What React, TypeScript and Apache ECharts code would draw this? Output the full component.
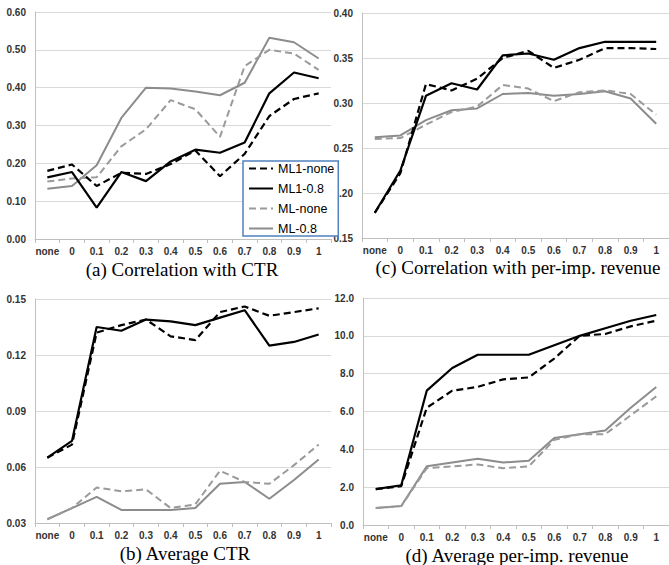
import React, { useEffect, useRef } from "react";
import * as echarts from "echarts";

const categories = ["none", "0", "0.1", "0.2", "0.3", "0.4", "0.5", "0.6", "0.7", "0.8", "0.9", "1"];
const seriesNames = ["ML1-none", "ML1-0.8", "ML-none", "ML-0.8"];

// (a) Correlation with CTR
const aML1none = [0.18, 0.197, 0.14, 0.175, 0.172, 0.198, 0.234, 0.166, 0.225, 0.325, 0.37, 0.385];
const aML1_08 = [0.163, 0.177, 0.083, 0.177, 0.153, 0.205, 0.236, 0.228, 0.255, 0.385, 0.44, 0.425];
const aMLnone = [0.152, 0.16, 0.163, 0.245, 0.29, 0.367, 0.343, 0.27, 0.457, 0.5, 0.49, 0.447];
const aML_08 = [0.133, 0.14, 0.195, 0.32, 0.4, 0.398, 0.39, 0.38, 0.413, 0.532, 0.52, 0.477];

// (b) Average CTR
const bML1none = [0.065, 0.072, 0.132, 0.136, 0.139, 0.13, 0.128, 0.143, 0.146, 0.141, 0.143, 0.145];
const bML1_08 = [0.065, 0.074, 0.135, 0.133, 0.139, 0.138, 0.136, 0.14, 0.144, 0.125, 0.127, 0.131];
const bMLnone = [0.032, 0.038, 0.049, 0.047, 0.048, 0.038, 0.04, 0.058, 0.052, 0.051, 0.061, 0.072];
const bML_08 = [0.032, 0.038, 0.044, 0.037, 0.037, 0.037, 0.038, 0.051, 0.052, 0.043, 0.053, 0.064];

// (c) Correlation with per-imp. revenue
const cML1none = [0.178, 0.222, 0.321, 0.314, 0.327, 0.35, 0.358, 0.339, 0.348, 0.361, 0.361, 0.36];
const cML1_08 = [0.178, 0.225, 0.308, 0.322, 0.315, 0.353, 0.355, 0.348, 0.361, 0.368, 0.368, 0.368];
const cMLnone = [0.26, 0.261, 0.276, 0.29, 0.296, 0.32, 0.316, 0.302, 0.312, 0.314, 0.31, 0.287];
const cML_08 = [0.262, 0.264, 0.281, 0.292, 0.294, 0.31, 0.311, 0.308, 0.31, 0.313, 0.305, 0.277];

// (d) Average per-imp. revenue
const dML1none = [1.9, 2.05, 6.2, 7.1, 7.3, 7.7, 7.8, 8.8, 10.0, 10.1, 10.5, 10.8];
const dML1_08 = [1.9, 2.1, 7.1, 8.3, 9.0, 9.0, 9.0, 9.5, 10.0, 10.4, 10.8, 11.1];
const dMLnone = [0.9, 1.0, 3.0, 3.1, 3.2, 3.0, 3.1, 4.5, 4.8, 4.8, 5.8, 6.8];
const dML_08 = [0.9, 1.0, 3.1, 3.3, 3.5, 3.3, 3.4, 4.6, 4.8, 5.0, 6.2, 7.3];

const panelTitles = [
  "(a) Correlation with CTR",
  "(b) Average CTR",
  "(c) Correlation with per-imp. revenue",
  "(d) Average per-imp. revenue",
];

const panelData = [
  [aML1none, aML1_08, aMLnone, aML_08],
  [bML1none, bML1_08, bMLnone, bML_08],
  [cML1none, cML1_08, cMLnone, cML_08],
  [dML1none, dML1_08, dMLnone, dML_08],
];

const yRanges = [
  { min: 0, max: 0.6, interval: 0.1, digits: 2 },
  { min: 0.03, max: 0.15, interval: 0.03, digits: 2 },
  { min: 0.15, max: 0.4, interval: 0.05, digits: 2 },
  { min: 0, max: 12, interval: 2, digits: 1 },
];

const grids = [
  { left: 35, top: 12, width: 296, height: 227 },
  { left: 35, top: 299, width: 296, height: 224 },
  { left: 362, top: 13, width: 314, height: 225 },
  { left: 363, top: 298, width: 314, height: 227 },
];

const titlePos = [
  { x: 182, y: 269 },
  { x: 185, y: 553 },
  { x: 518, y: 267 },
  { x: 517, y: 555 },
];

const labelMargins = [7, 7, 7, 7];

const lineStyles = [
  { color: "#000000", width: 2.2, type: [7, 4] },
  { color: "#000000", width: 2.2, type: "solid" },
  { color: "#9a9a9a", width: 2, type: [7, 4] },
  { color: "#8c8c8c", width: 2, type: "solid" },
];

export default function App() {
  const ref = useRef<HTMLDivElement>(null);

  useEffect(() => {
    if (!ref.current) return;
    const chart = echarts.init(ref.current, undefined, { renderer: "svg" });

    const labelFont = {
      fontFamily: "Liberation Sans",
      fontWeight: "bold" as const,
      fontSize: 10,
      color: "#333333",
    };

    const xAxis = grids.map((_, i) => ({
      type: "category" as const,
      gridIndex: i,
      data: categories,
      boundaryGap: true,
      axisLine: { show: true, lineStyle: { color: "#bfbfbf", width: 1 } },
      axisTick: { show: true, length: 4, lineStyle: { color: "#bfbfbf" } },
      axisLabel: { ...labelFont, margin: labelMargins[i], interval: 0 },
      splitLine: { show: false },
    }));

    const yAxis = grids.map((_, i) => ({
      type: "value" as const,
      gridIndex: i,
      min: yRanges[i].min,
      max: yRanges[i].max,
      interval: yRanges[i].interval,
      axisLine: { show: true, lineStyle: { color: "#bfbfbf", width: 1 } },
      axisTick: { show: false },
      axisLabel: {
        ...labelFont,
        margin: 9,
        formatter: (v: number) => v.toFixed(yRanges[i].digits),
      },
      splitLine: { show: true, lineStyle: { color: "#d9d9d9", width: 1 } },
    }));

    const series: any[] = [];
    panelData.forEach((set, gi) => {
      set.forEach((vals, si) => {
        series.push({
          type: "line",
          name: seriesNames[si],
          xAxisIndex: gi,
          yAxisIndex: gi,
          data: vals,
          symbol: "none",
          lineStyle: { ...lineStyles[si] },
          itemStyle: { color: lineStyles[si].color },
          z: 10 - si,
        });
      });
    });

    chart.setOption({
      animation: false,
      backgroundColor: "#ffffff",
      grid: grids.map((g) => ({ ...g, containLabel: false })),
      xAxis,
      yAxis,
      series,
      legend: {
        show: true,
        orient: "vertical",
        left: 243,
        top: 161,
        padding: [1, 4, 1, 5],
        itemWidth: 24,
        itemHeight: 14,
        itemGap: 7,
        borderColor: "#4f81bd",
        borderWidth: 1.5,
        backgroundColor: "#ffffff",
        itemStyle: { opacity: 0 },
        textStyle: { fontFamily: "Liberation Sans", fontSize: 12.5, color: "#000000" },
        data: seriesNames,
      },
      graphic: panelTitles.map((t, i) => ({
        type: "text",
        x: titlePos[i].x,
        y: titlePos[i].y,
        z: 100,
        style: {
          text: t,
          fill: "#000000",
          font: '19px "Liberation Serif"',
          align: "center",
          verticalAlign: "middle",
        },
      })),
    });

    return () => chart.dispose();
  }, []);

  return (
    <div
      ref={ref}
      style={{ position: "fixed", left: 0, top: 0, width: 669, height: 565 }}
    />
  );
}
